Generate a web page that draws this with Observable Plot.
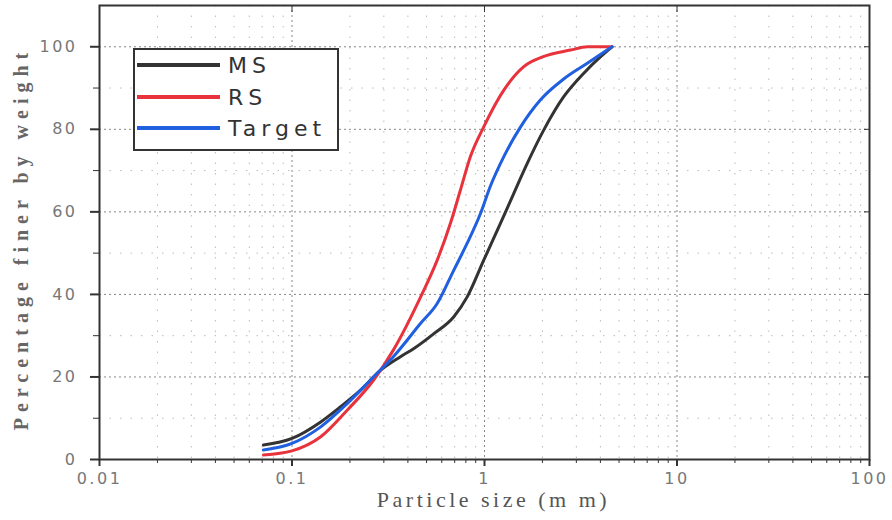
<!DOCTYPE html>
<html><head><meta charset="utf-8">
<script src="https://cdn.jsdelivr.net/npm/d3@7"></script>
<script src="https://cdn.jsdelivr.net/npm/@observablehq/plot@0.6"></script>
<style>
body{margin:0;background:#fff;}
#wrap{position:relative;width:892px;height:520px;}
#wrap svg{overflow:visible;}
g[aria-label="x-axis tick label"] text, g[aria-label="y-axis tick label"] text{fill:#777;letter-spacing:2.5px;}
#legend{position:absolute;left:0;top:0;pointer-events:none;}
</style></head><body><div id="wrap"></div>
<script>
// ---- data ----
const seriesNames = ["MS", "RS", "Target"];
const seriesColors = ["#333333", "#e8323c", "#1f5fe0"];

const sizeMS = [0.071,0.100,0.141,0.179,0.227,0.288,0.366,0.43,0.546,0.693,0.813,0.991,1.21,1.42,1.67,2.03,2.58,3.28,4.01,4.60];
const pctMS  = [3.5,5.1,9.1,12.8,16.8,21.6,24.9,26.9,30.5,34.6,39.4,48.3,57.2,64.5,71.8,79.8,87.9,93.6,97.6,100];

const sizeRS = [0.071,0.100,0.141,0.194,0.265,0.336,0.466,0.568,0.666,0.750,0.845,0.991,1.26,1.60,2.02,2.80,3.42,4.60];
const pctRS  = [1.1,2.1,5.5,12.0,19.2,26.5,39.4,48.3,57.3,65.3,73.4,80.6,89.5,95.2,97.6,99.2,100,100];

const sizeTarget = [0.071,0.100,0.141,0.194,0.265,0.336,0.466,0.568,0.693,0.813,0.953,1.07,1.26,1.54,1.95,2.58,3.42,4.60];
const pctTarget  = [2.3,3.9,7.9,13.6,20.0,24.9,33.0,37.8,45.9,52.4,59.6,66.1,73.4,80.6,87.1,92.2,96.0,100];

const xMajorTicks = [0.01, 0.1, 1, 10, 100];
const xTickLabels = ["0.01", "0.1", "1", "10", "100"];
const yMajorTicks = [0, 20, 40, 60, 80, 100];
const yMinorTicks = [10, 30, 50, 70, 90];
const xTitle = "Particle size (m m)";
const yTitle = "Percentage finer by weight";

// ---- build ----
const sizes = [sizeMS, sizeRS, sizeTarget];
const pcts = [pctMS, pctRS, pctTarget];
const rows = seriesNames.flatMap((name, k) => sizes[k].map((s, i) => ({series: name, size: s, pct: pcts[k][i]})));
const xMinorTicks = d3.range(-2, 2).flatMap(e => d3.range(2, 10).map(m => +(m * Math.pow(10, e)).toPrecision(3)));
const xLabelMap = new Map(xMajorTicks.map((t, i) => [t, xTickLabels[i]]));

const plot = Plot.plot({
  width: 892, height: 520,
  marginLeft: 99, marginRight: 23, marginTop: 5, marginBottom: 61,
  style: {fontSize: "16px", fontFamily: "DejaVu Sans", background: "#fff"},
  x: {type: "log", domain: [0.01, 100]},
  y: {domain: [0, 110]},
  color: {domain: seriesNames, range: seriesColors},
  marks: [
    Plot.ruleX(xMinorTicks, {stroke: "#bbb", strokeDasharray: "1.5,9"}),
    Plot.ruleY(yMinorTicks, {stroke: "#bbb", strokeDasharray: "1.5,9"}),
    Plot.ruleX(xMajorTicks.slice(1, -1), {stroke: "#888", strokeDasharray: "2,3"}),
    Plot.ruleY(yMajorTicks.slice(1), {stroke: "#888", strokeDasharray: "2,3"}),
    Plot.line(rows, {x: "size", y: "pct", stroke: "series", strokeWidth: 3, curve: "monotone-x"}),
    Plot.axisX({ticks: xMajorTicks, tickFormat: d => xLabelMap.get(d), tickSize: 7, tickPadding: 6, strokeWidth: 2, stroke: "#333", label: null}),
    Plot.axisX({ticks: xMinorTicks, tickFormat: () => "", tickSize: 4, stroke: "#333", label: null}),
    Plot.axisY({ticks: yMajorTicks, tickSize: 9, tickPadding: 13, strokeWidth: 2, stroke: "#333", label: null}),
    Plot.axisY({ticks: yMinorTicks, tickFormat: () => "", tickSize: 6, stroke: "#333", label: null}),
    Plot.axisX({anchor: "top", ticks: xMajorTicks, tickFormat: () => "", tickSize: -6, stroke: "#333", label: null}),
    Plot.axisY({anchor: "right", ticks: yMajorTicks, tickFormat: () => "", tickSize: -6, stroke: "#333", label: null}),
    Plot.frame({stroke: "#333", strokeWidth: 2}),
    Plot.text([xTitle], {frameAnchor: "bottom", dy: 47, dx: 9, fontSize: 22, fontFamily: "Liberation Serif", fill: "#555"}),
    Plot.text([yTitle], {frameAnchor: "left", textAnchor: "middle", dx: -78, dy: 6, rotate: -90, fontSize: 20, fontFamily: "Liberation Serif", fontWeight: "bold", fill: "#666"})
  ]
});
document.getElementById("wrap").appendChild(plot);

// letter spacing on titles
d3.select(plot).selectAll('g[aria-label="text"] text').each(function() {
  const t = d3.select(this);
  if (t.text() === xTitle) t.style("letter-spacing", "3.5px");
  if (t.text() === yTitle) t.style("letter-spacing", "6px");
});

// ---- legend overlay ----
const lg = d3.select("#wrap").append("svg").attr("id", "legend").attr("width", 892).attr("height", 520);
lg.append("rect").attr("x", 134).attr("y", 49).attr("width", 204).attr("height", 101)
  .attr("fill", "#fff").attr("stroke", "#333").attr("stroke-width", 2);
const rowY = [65, 97, 128];
seriesNames.forEach((name, i) => {
  lg.append("line").attr("x1", 137).attr("x2", 220).attr("y1", rowY[i]).attr("y2", rowY[i])
    .attr("stroke", seriesColors[i]).attr("stroke-width", 4);
  lg.append("text").attr("x", 228).attr("y", rowY[i]).attr("dy", "0.36em")
    .attr("font-family", "DejaVu Sans").attr("font-size", 22).attr("fill", "#333")
    .style("letter-spacing", "5px").text(name);
});
</script>
</body></html>
